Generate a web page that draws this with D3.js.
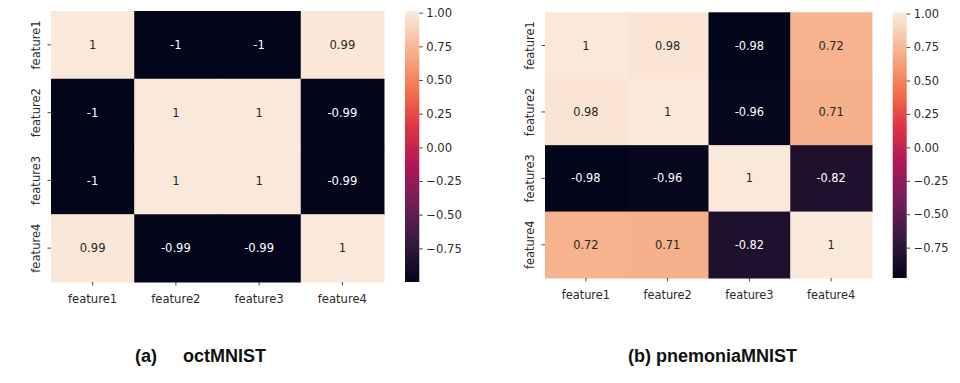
<!DOCTYPE html>
<html>
<head>
<meta charset="utf-8">
<script src="https://cdn.jsdelivr.net/npm/d3@7"></script>
<style>
  html, body { margin: 0; padding: 0; background: #fff; }
  svg { display: block; }
</style>
</head>
<body>
<svg id="chart" width="960" height="383"></svg>
<script>
// ---------- data ----------
const features = ["feature1", "feature2", "feature3", "feature4"];
const octValues = [
  [1, -1, -1, 0.99],
  [-1, 1, 1, -0.99],
  [-1, 1, 1, -0.99],
  [0.99, -0.99, -0.99, 1]
];
const pneuValues = [
  [1, 0.98, -0.98, 0.72],
  [0.98, 1, -0.96, 0.71],
  [-0.98, -0.96, 1, -0.82],
  [0.72, 0.71, -0.82, 1]
];
const octRange = [-1.0, 1.0125];
const pneuRange = [-0.977, 1.01];
const colorbarTicks = [-0.75, -0.5, -0.25, 0, 0.25, 0.5, 0.75, 1];
const titles = [["(a)", "octMNIST"], ["(b) pnemoniaMNIST"]];

// seaborn "rocket" colormap key stops
const rocketStops = [0, 1/7, 2/7, 3/7, 4/7, 5/7, 6/7, 1];
const rocketColors = ["#03051a", "#35193e", "#701f57", "#ad1759", "#e13342", "#f37651", "#f6b48f", "#faebdd"];
const rocket = d3.scaleLinear().domain(rocketStops).range(rocketColors).interpolate(d3.interpolateRgb).clamp(true);

const svg = d3.select("#chart");
const font = "'DejaVu Sans', sans-serif";
const textColor = "#2b2b2b";
const fmtCell = v => (Math.abs(v - Math.round(v)) < 1e-9 ? String(Math.round(v)) : String(v));
const fmtTick = d3.format(".2f");
const fmtMinus = v => fmtTick(v).replace("-", "\u2212");

function luminance(c) {
  const rgb = d3.rgb(c);
  const f = x => { x /= 255; return x <= 0.03928 ? x / 12.92 : Math.pow((x + 0.055) / 1.055, 2.4); };
  return 0.2126 * f(rgb.r) + 0.7152 * f(rgb.g) + 0.0722 * f(rgb.b);
}

function heatmap(cfg) {
  const g = svg.append("g");
  const x = d3.scaleBand().domain(features).range([cfg.x0, cfg.x1]);
  const y = d3.scaleBand().domain(features).range([cfg.y0, cfg.y1]);
  const norm = d3.scaleLinear().domain(cfg.range).range([0, 1]);
  const color = v => rocket(norm(v));

  const cells = [];
  cfg.values.forEach((row, i) => row.forEach((v, j) => cells.push({ r: features[i], c: features[j], v })));

  g.selectAll("rect.cell").data(cells).join("rect")
    .attr("class", "cell")
    .attr("x", d => x(d.c)).attr("y", d => y(d.r))
    .attr("width", x.bandwidth() + 0.5).attr("height", y.bandwidth() + 0.5)
    .attr("fill", d => color(d.v));

  g.selectAll("text.annot").data(cells).join("text")
    .attr("class", "annot")
    .attr("x", d => x(d.c) + x.bandwidth() / 2)
    .attr("y", d => y(d.r) + y.bandwidth() / 2)
    .attr("dy", "0.36em")
    .attr("text-anchor", "middle")
    .attr("font-family", font).attr("font-size", cfg.fs)
    .attr("fill", d => luminance(color(d.v)) > 0.408 ? "#262626" : "#ffffff")
    .text(d => fmtCell(d.v));

  // x axis ticks + labels
  const xa = g.append("g");
  features.forEach(f => {
    const cx = x(f) + x.bandwidth() / 2;
    xa.append("line").attr("x1", cx).attr("x2", cx).attr("y1", cfg.y1).attr("y2", cfg.y1 + 3.5)
      .attr("stroke", "#333").attr("stroke-width", 0.9);
    xa.append("text").attr("x", cx).attr("y", cfg.xLabelBase)
      .attr("text-anchor", "middle").attr("font-family", font).attr("font-size", cfg.fs)
      .attr("fill", textColor).text(f);
  });
  // y axis ticks + labels
  const ya = g.append("g");
  features.forEach(f => {
    const cy = y(f) + y.bandwidth() / 2;
    ya.append("line").attr("x1", cfg.x0 - 3.5).attr("x2", cfg.x0).attr("y1", cy).attr("y2", cy)
      .attr("stroke", "#333").attr("stroke-width", 0.9);
    ya.append("text").attr("transform", `translate(${cfg.yLabelBase},${cy}) rotate(-90)`)
      .attr("text-anchor", "middle").attr("font-family", font).attr("font-size", cfg.fs)
      .attr("fill", textColor).text(f);
  });

  // colorbar
  const gid = "grad" + cfg.id;
  const grad = svg.append("defs").append("linearGradient").attr("id", gid)
    .attr("x1", 0).attr("y1", 1).attr("x2", 0).attr("y2", 0);
  d3.range(0, 1.0001, 0.02).forEach(t => {
    grad.append("stop").attr("offset", t).attr("stop-color", rocket(t));
  });
  g.append("rect").attr("x", cfg.cbx0).attr("y", cfg.y0)
    .attr("width", cfg.cbx1 - cfg.cbx0).attr("height", cfg.y1 - cfg.y0)
    .attr("fill", `url(#${gid})`);
  const cbScale = d3.scaleLinear().domain(cfg.range).range([cfg.y1, cfg.y0]);
  const cbAxis = d3.axisRight(cbScale).tickValues(colorbarTicks).tickSize(3.5).tickPadding(3.5).tickFormat(fmtMinus);
  const ca = g.append("g").attr("transform", `translate(${cfg.cbx1},0)`).call(cbAxis);
  ca.select(".domain").remove();
  ca.selectAll(".tick line").attr("stroke", "#333").attr("stroke-width", 0.9);
  ca.selectAll(".tick text").attr("font-family", font).attr("font-size", cfg.fs).attr("fill", textColor);
}

heatmap({ id: "a", values: octValues, range: octRange,
  x0: 51, x1: 384, y0: 11, y1: 282, cbx0: 405, cbx1: 419.3,
  xLabelBase: 303, yLabelBase: 39.5, fs: 11.6 });
heatmap({ id: "b", values: pneuValues, range: pneuRange,
  x0: 545, x1: 872, y0: 12.3, y1: 278, cbx0: 892.7, cbx1: 906.7,
  xLabelBase: 298.5, yLabelBase: 533.5, fs: 11.4 });

// captions
const cap = svg.append("g").attr("font-family", "'Liberation Sans', Arial, sans-serif")
  .attr("font-weight", "bold").attr("font-size", 18).attr("fill", "#111");
cap.append("text").attr("x", 135).attr("y", 362).text(titles[0][0]);
cap.append("text").attr("x", 183).attr("y", 362).text(titles[0][1]);
cap.append("text").attr("x", 628).attr("y", 362).text(titles[1][0]);
</script>
</body>
</html>
